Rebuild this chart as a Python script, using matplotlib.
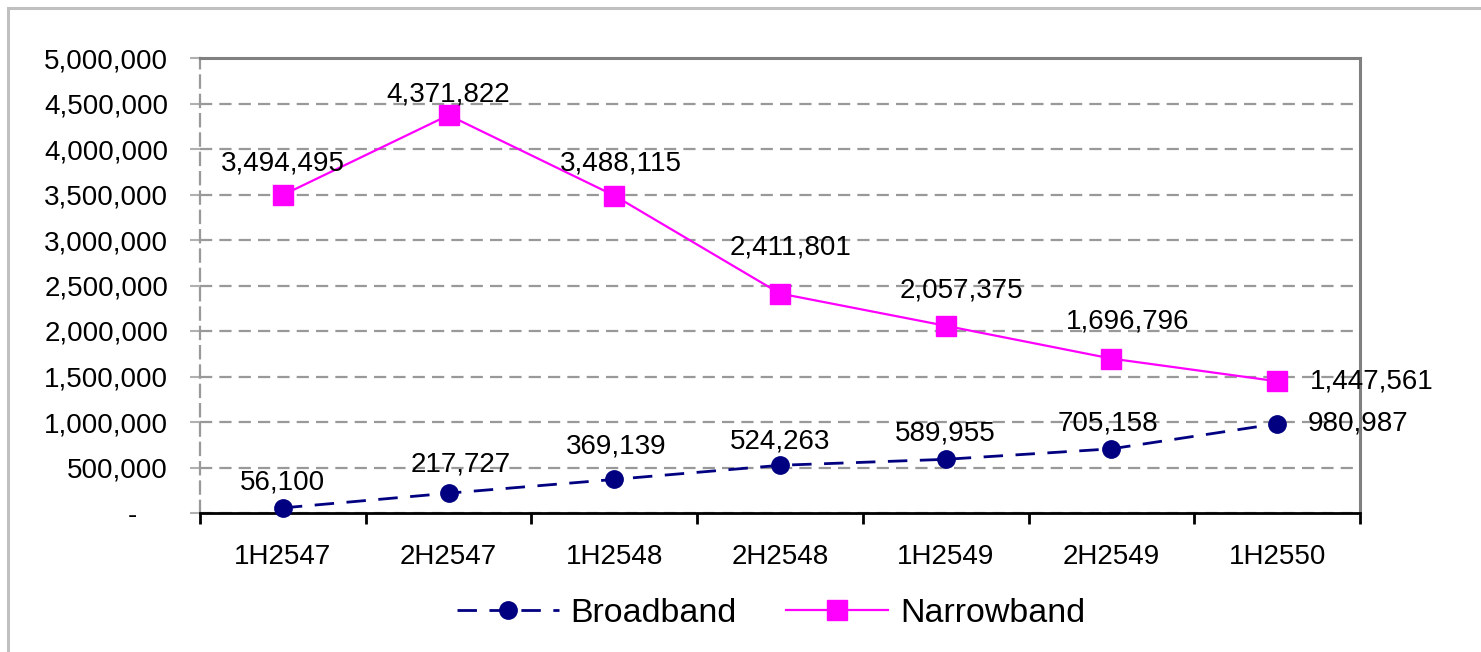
import matplotlib
matplotlib.use("Agg")
import matplotlib.pyplot as plt
from matplotlib.ticker import FuncFormatter, FixedLocator
from matplotlib.patches import Rectangle

categories = ["1H2547", "2H2547", "1H2548", "2H2548", "1H2549", "2H2549", "1H2550"]
broadband = [56100, 217727, 369139, 524263, 589955, 705158, 980987]
narrowband = [3494495, 4371822, 3488115, 2411801, 2057375, 1696796, 1447561]
y_ticks = [0, 500000, 1000000, 1500000, 2000000, 2500000, 3000000, 3500000,
           4000000, 4500000, 5000000]

# label offsets in pixels (layout only)
nb_offsets = [(0, 32), (0, 21), (7, 32), (11, 46), (16, 35), (16, 37), (33, 0)]
bb_offsets = [(0, 25), (12, 29), (2, 33), (0, 24), (0, 26), (-3, 25), (31, 0)]

plt.rcParams['font.family'] = ['Liberation Sans', 'DejaVu Sans']

W, H = 1481, 652
fig = plt.figure(figsize=(W / 100, H / 100), dpi=100)
fig.patch.set_facecolor('white')

# outer chart border
fig.add_artist(Rectangle((8 / W, -0.2), 1.5, 1.2 - 8 / H, transform=fig.transFigure,
                         fill=False, edgecolor='#c0c0c0', linewidth=2.2))

ax = fig.add_axes([200 / W, 1 - 513 / H, (1360 - 200) / W, (513 - 58) / H])
x = list(range(len(categories)))

ax.set_xlim(-0.5, len(categories) - 0.5)
ax.set_ylim(0, 5000000)

ax.yaxis.set_major_locator(FixedLocator(y_ticks))
ax.yaxis.grid(True, color='#999999', linewidth=1.6, linestyle=(0, (5.5, 3.2)))
ax.set_axisbelow(True)

def fmt(v, pos):
    if v == 0:
        return "-    "
    return f"{int(v):,}"

ax.yaxis.set_major_formatter(FuncFormatter(fmt))
ax.tick_params(axis='y', length=7, width=1.5, color='#b0b0b0', pad=16, labelsize=20,
               labelcolor='black')

# x-axis ticks at category boundaries, labels at centers
ax.set_xticks([i - 0.5 for i in range(len(categories) + 1)])
ax.set_xticklabels([])
ax.set_xticks(x, minor=True)
ax.set_xticklabels(categories, minor=True)
ax.tick_params(axis='x', which='major', length=8, width=2, color='black', direction='out')
ax.tick_params(axis='x', which='minor', length=0, pad=22, labelsize=20)

for side in ['top', 'right']:
    ax.spines[side].set_color('#808080')
    ax.spines[side].set_linewidth(2.2)
ax.spines['bottom'].set_color('black')
ax.spines['bottom'].set_linewidth(2)
ax.spines['left'].set_color('#999999')
ax.spines['left'].set_linewidth(1.6)
ax.spines['left'].set_linestyle((0, (5.5, 3.2)))

ln_b, = ax.plot(x, broadband, color='#000080', linewidth=2, linestyle=(0, (7, 4.5)),
                marker='o', markersize=12.5, markerfacecolor='#000080',
                markeredgecolor='#000080', label='Broadband', clip_on=False, zorder=3)
ln_n, = ax.plot(x, narrowband, color='#FF00FF', linewidth=1.6, marker='s',
                markersize=14, markerfacecolor='#FF00FF', markeredgecolor='#FF00FF',
                label='Narrowband', clip_on=False, zorder=3)

for i, v in enumerate(narrowband):
    dx, dy = nb_offsets[i]
    ha = 'left' if i == len(narrowband) - 1 else 'center'
    ax.annotate(f"{v:,}", (x[i], v), xytext=(dx, dy), textcoords='offset pixels',
                ha=ha, va='center', fontsize=20, color='black', zorder=4,
                annotation_clip=False)
for i, v in enumerate(broadband):
    dx, dy = bb_offsets[i]
    ha = 'left' if i == len(broadband) - 1 else 'center'
    ax.annotate(f"{v:,}", (x[i], v), xytext=(dx, dy), textcoords='offset pixels',
                ha=ha, va='center', fontsize=20, color='black', zorder=4,
                annotation_clip=False)

fig.legend(handles=[ln_b, ln_n], loc='center', bbox_to_anchor=(771 / W, 1 - 613 / H),
           ncol=2, frameon=False, fontsize=24.5, handlelength=3.0, handletextpad=0.35,
           columnspacing=1.45)

fig.savefig("out.png", dpi=100, facecolor='white')
